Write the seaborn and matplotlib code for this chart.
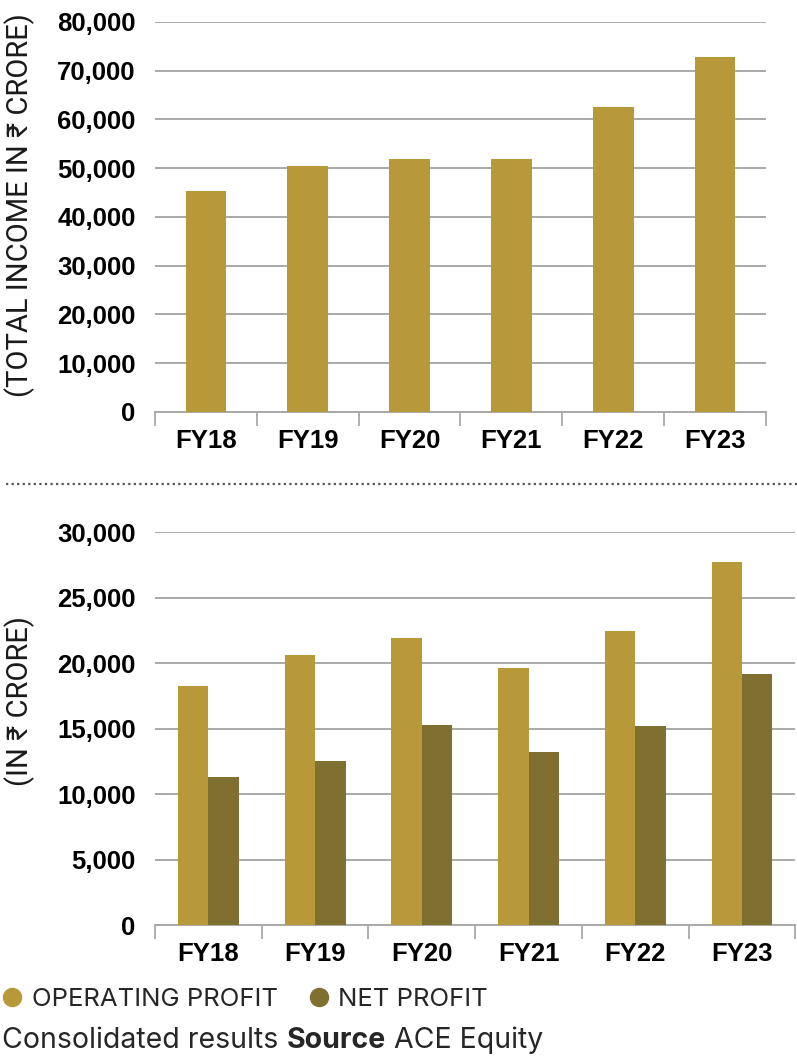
import numpy as np
import pandas as pd
import matplotlib
matplotlib.use("Agg")
import matplotlib.pyplot as plt
from matplotlib.lines import Line2D
import seaborn as sns

# data (Rs crore)
years = ["FY18", "FY19", "FY20", "FY21", "FY22", "FY23"]
total_income = [45300, 50500, 51900, 51900, 62600, 72900]
operating_profit = [18300, 20600, 21900, 19600, 22500, 27700]
net_profit = [11300, 12550, 15300, 13200, 15200, 19200]
series_names = ["OPERATING PROFIT", "NET PROFIT"]

gold = "#b8993a"
olive = "#7f7032"
grid_c = "#a9a9a9"

sns.set_theme(style="white")
plt.rcParams["font.family"] = ["Liberation Sans", "DejaVu Sans"]
txt_font = ["Inter", "DejaVu Sans"]

fig = plt.figure(figsize=(7.97, 10.59), dpi=100)
ax1 = fig.add_axes([0.1945, 0.611, 0.7665, 0.3683])
ax2 = fig.add_axes([0.1945, 0.1265, 0.8035, 0.3708])

# top chart - total income
df_top = pd.DataFrame({"year": years, "income": total_income})
sns.barplot(data=df_top, x="year", y="income", color=gold, width=0.4,
            saturation=1, linewidth=0, ax=ax1, zorder=3)

# bottom chart - profits
df_bot = pd.DataFrame({
    "year": years * 2,
    "value": operating_profit + net_profit,
    "series": [series_names[0]] * len(years) + [series_names[1]] * len(years),
})
sns.barplot(data=df_bot, x="year", y="value", hue="series",
            palette=[gold, olive], width=0.57, gap=0, saturation=1,
            linewidth=0, legend=False, ax=ax2, zorder=3)

for ax, top, step in [(ax1, 80000, 10000), (ax2, 30000, 5000)]:
    ax.set_ylim(0, top)
    ax.set_xlim(-0.5, len(years) - 0.5)
    ax.set_yticks(np.arange(0, top + 1, step))
    ax.set_yticklabels([f"{v:,}" for v in np.arange(0, top + 1, step)],
                       fontsize=18.5, fontweight="bold")
    ax.set_xticks(range(len(years)))
    ax.set_xticklabels(years, fontsize=18.5, fontweight="bold")
    ax.set_xticks(np.arange(-0.5, len(years), 1), minor=True)
    ax.tick_params(axis="y", length=0, pad=14, colors="black")
    ax.tick_params(axis="x", which="major", length=0, pad=12, colors="black")
    ax.tick_params(axis="x", which="minor", length=10, width=1.3,
                   color=grid_c, bottom=True)
    ax.yaxis.grid(True, color=grid_c, linewidth=1.4, zorder=0)
    ax.set_axisbelow(True)
    for s in ["top", "right", "left"]:
        ax.spines[s].set_visible(False)
    ax.spines["bottom"].set_color(grid_c)
    ax.spines["bottom"].set_linewidth(1.4)
    ax.set_xlabel("")
    ax.set_ylabel("")

# rotated axis titles
fig.text(0.025, 0.806, "(TOTAL INCOME IN \u20b9 CRORE)", rotation=90,
         ha="center", va="center", fontsize=21,
         family=["Roboto", "DejaVu Sans"], color="#1a1a1a")
fig.text(0.025, 0.338, "(IN \u20b9 CRORE)", rotation=90,
         ha="center", va="center", fontsize=21,
         family=["Roboto", "DejaVu Sans"], color="#1a1a1a")

# dotted separator
fig.add_artist(Line2D([0.008, 1.0], [1 - 484 / 1059] * 2, transform=fig.transFigure,
                      color="#555555", linestyle=(0, (1, 1.5)), linewidth=1.6))

# legend
handles = [Line2D([], [], marker="o", linestyle="", color=c, markersize=13)
           for c in [gold, olive]]
fig.legend(handles, series_names, loc="center left", ncol=2,
           bbox_to_anchor=(-0.028, 1 - 999 / 1059), frameon=False,
           handlelength=0.9, handletextpad=0.3, columnspacing=1.15,
           prop={"family": txt_font, "size": 18.5})

# source line with bold word
t1 = fig.text(0.003, 1 - 1040 / 1059, "Consolidated results ", fontsize=20.5,
              family=txt_font, va="center")
t2 = ax2.annotate("Source", xy=(1, 0), xycoords=t1, va="bottom", fontsize=20.5,
                  fontweight="bold", family=txt_font, annotation_clip=False)
ax2.annotate(" ACE Equity", xy=(1, 0), xycoords=t2, va="bottom", fontsize=20.5,
             family=txt_font, annotation_clip=False)

fig.savefig("out.png", dpi=100)
